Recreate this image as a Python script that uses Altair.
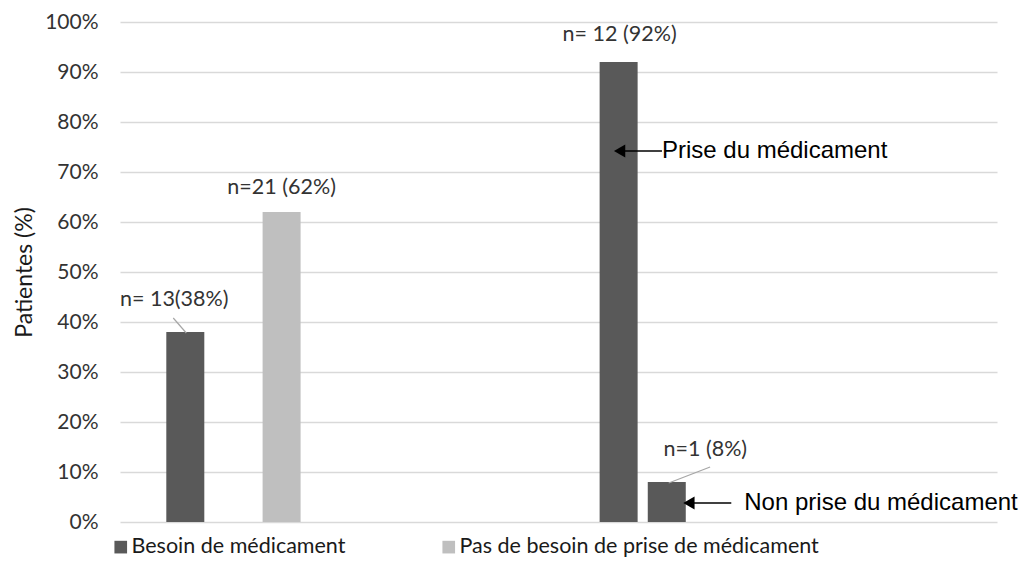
import altair as alt
import pandas as pd

# ---- data ----
series = ["Besoin de médicament", "Pas de besoin de prise de médicament",
          "Besoin de médicament", "Besoin de médicament"]
slots = [1, 3, 10, 11]            # bar slots along the horizontal axis
values = [38, 62, 92, 8]           # % of patients
bar_labels = ["n= 13(38%)", "n=21 (62%)", "n= 12 (92%)", "n=1 (8%)"]
label_x = [0.77, 3.0, 10.02, 11.8]
label_y = [44.4, 66.8, 97.4, 14.4]

# leader lines from labels to bars
lead_x = [0.75, 11.9]
lead_y = [40.8, 11.0]
lead_x2 = [1.02, 11.04]
lead_y2 = [37.8, 7.8]

# arrows with captions
arrow_text = ["Prise du médicament", "Non prise du médicament"]
arrow_tip_x = [10.02, 11.46]
arrow_end_x = [10.90, 12.34]
arrow_y = [74.2, 3.8]
arrow_text_x = [10.90, 12.61]

legend_order = ["Besoin de médicament", "Pas de besoin de prise de médicament"]
legend_colors = ["#595959", "#bfbfbf"]

yticks = [0, 10, 20, 30, 40, 50, 60, 70, 80, 90, 100]

bars_df = pd.DataFrame({"x": slots, "y": values, "serie": series})
lab_df = pd.DataFrame({"x": label_x, "y": label_y, "t": bar_labels})
lead_df = pd.DataFrame({"x": lead_x, "y": lead_y, "x2": lead_x2, "y2": lead_y2})
arr_df = pd.DataFrame({"x": arrow_tip_x, "x2": arrow_end_x, "y": arrow_y,
                       "tx": arrow_text_x, "t": arrow_text})

XS = alt.Scale(domain=[-0.2526, 17.755], nice=False, zero=False)
YS = alt.Scale(domain=[0, 100], nice=False)
YAX = alt.Axis(values=yticks, labelExpr="datum.value + '%'", title="Patientes (%)",
               grid=True, gridColor="#d9d9d9", gridWidth=1.3, domain=False,
               ticks=False, labelPadding=22, labelFont="Lato", labelFontSize=21,
               labelColor="#333333", titleFont="Lato", titleFontSize=23,
               titleFontWeight="normal", titleColor="#1a1a1a", titlePadding=8)


def X(f="x"):
    return alt.X(f"{f}:Q", scale=XS, axis=None)


def Y(f="y"):
    return alt.Y(f"{f}:Q", scale=YS, axis=YAX)


bars = alt.Chart(bars_df).mark_bar(size=38).encode(
    x=X(), y=Y(),
    color=alt.Color("serie:N",
                    scale=alt.Scale(domain=legend_order, range=legend_colors),
                    legend=alt.Legend(title=None, orient="none", direction="horizontal",
                                      legendX=-10, legendY=514, symbolType="square",
                                      symbolSize=160, symbolStrokeWidth=0,
                                      labelFont="Lato", labelFontSize=21.5,
                                      labelColor="#1a1a1a", columnPadding=92,
                                      labelLimit=1000, symbolOffset=0, labelOffset=0))
)

labels = alt.Chart(lab_df).mark_text(font="Lato", fontSize=21.5, color="#333333",
                                     baseline="middle", align="center").encode(
    x=X(), y=Y(), text="t:N")

leaders = alt.Chart(lead_df).mark_rule(color="#a6a6a6", strokeWidth=1.2).encode(
    x=X(), y=Y(), x2="x2:Q", y2="y2:Q")

arrow_lines = alt.Chart(arr_df).mark_rule(color="black", strokeWidth=1.3).encode(
    x=X(), x2="x2:Q", y=Y())

arrow_heads = alt.Chart(arr_df).mark_point(shape="triangle-left", filled=True,
                                           color="black", size=170, opacity=1).encode(
    x=X(), y=Y())

arrow_txt = alt.Chart(arr_df).mark_text(font="Liberation Sans", fontSize=24,
                                        color="black", align="left",
                                        baseline="middle").encode(
    x=X("tx"), y=Y(), text="t:N")

chart = alt.layer(bars, leaders, labels, arrow_lines, arrow_heads, arrow_txt).properties(
    width=877, height=500,
    autosize=alt.AutoSizeParams(type="none"),
    padding={"left": 112, "top": 14, "right": 22, "bottom": 60},
).configure_view(stroke=None)

chart.save("out.html", embed_options={"renderer": "svg", "actions": False})
